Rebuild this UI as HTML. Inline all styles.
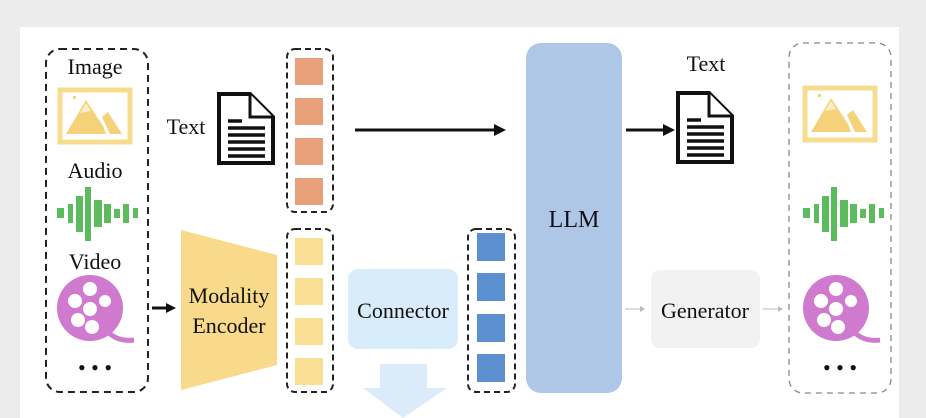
<!DOCTYPE html>
<html><head><meta charset="utf-8"><style>
html,body{margin:0;padding:0;background:#ececec;}
svg{display:block;}
text{font-family:"Liberation Serif",serif;fill:#111;}
</style></head><body>
<svg width="926" height="418" viewBox="0 0 926 418" xmlns="http://www.w3.org/2000/svg">
<defs>
<g id="waves" fill="#5cbb5c">
<rect x="57" y="208" width="7" height="10"/><rect x="68" y="204" width="5" height="19"/><rect x="76" y="196" width="7" height="36"/><rect x="85" y="187" width="6" height="54"/><rect x="94" y="200" width="8" height="27"/><rect x="104" y="204" width="7" height="19"/><rect x="114" y="209" width="6" height="9"/><rect x="123" y="204" width="6" height="19"/><rect x="133" y="208" width="5" height="10"/>
</g>
</defs>
<rect width="926" height="418" fill="#ececec"/>
<rect x="20" y="27" width="879" height="391" fill="#ffffff"/>

<!-- left dashed box -->
<rect x="46" y="49" width="102" height="343" rx="14" fill="none" stroke="#222" stroke-width="2" stroke-dasharray="7,5"/>
<text x="95" y="74" font-size="22" text-anchor="middle">Image</text>
<g>
<rect x="60" y="90" width="70" height="52" fill="#fff" stroke="#f6dc8c" stroke-width="5"/>
<polygon points="66,134 86,100 103,126 106,134" fill="#f5d27a"/>
<polygon points="80,113 86,103 91,111" fill="#fdf0c8"/>
<polygon points="102,117 108,112 122,134 110,134" fill="#f5d27a"/>
<rect x="73" y="96" width="3" height="3" fill="#f5d27a"/>
</g>
<text x="95" y="178" font-size="22" text-anchor="middle">Audio</text>
<use href="#waves"/>
<text x="95" y="269" font-size="22" text-anchor="middle">Video</text>
<g>
<path d="M108,332 Q118,342 134,340" stroke="#cf79cf" stroke-width="5" fill="none"/>
<circle cx="90" cy="308" r="33" fill="#cf79cf"/>
<g fill="#fff"><circle cx="90" cy="289" r="7"/><circle cx="75" cy="301" r="7"/><circle cx="105" cy="301" r="6"/><circle cx="90" cy="309" r="7"/><circle cx="78" cy="320" r="7"/><circle cx="92" cy="327" r="7"/></g>
</g>
<text x="95" y="375" font-size="22" text-anchor="middle">• • •</text>

<!-- text input -->
<text x="186" y="134" font-size="22" text-anchor="middle">Text</text>
<g fill="none" stroke="#111" stroke-width="4">
<path d="M219,94 H250 L273,117 V163 H219 Z" fill="#fff"/>
<path d="M250,94 V117 H273" fill="#fff" stroke-width="3"/>
<g stroke-width="3.5"><line x1="228" y1="121" x2="242" y2="121"/><line x1="228" y1="128" x2="265" y2="128"/><line x1="228" y1="135" x2="265" y2="135"/><line x1="228" y1="142" x2="265" y2="142"/><line x1="228" y1="149" x2="265" y2="149"/><line x1="228" y1="156" x2="265" y2="156"/></g>
</g>

<!-- orange tokens -->
<rect x="287" y="49" width="46" height="163" rx="8" fill="none" stroke="#222" stroke-width="2" stroke-dasharray="6,4"/>
<g fill="#e8a07a"><rect x="295" y="58" width="28" height="27"/><rect x="295" y="98" width="28" height="27"/><rect x="295" y="138" width="28" height="27"/><rect x="295" y="178" width="28" height="27"/></g>

<!-- arrow to LLM -->
<line x1="355" y1="130" x2="496" y2="130" stroke="#111" stroke-width="3"/>
<polygon points="494,124 506,130 494,136" fill="#111"/>

<!-- encoder -->
<line x1="152" y1="308" x2="168" y2="308" stroke="#111" stroke-width="3"/>
<polygon points="166,303 176,308 166,313" fill="#111"/>
<polygon points="181,230 277,255 277,365 181,390" fill="#f8da8a"/>
<text x="229" y="303" font-size="22" text-anchor="middle">Modality</text>
<text x="229" y="333" font-size="22" text-anchor="middle">Encoder</text>

<!-- yellow tokens -->
<rect x="287" y="229" width="46" height="163" rx="8" fill="none" stroke="#222" stroke-width="2" stroke-dasharray="6,4"/>
<g fill="#f9df94"><rect x="295" y="238" width="28" height="27"/><rect x="295" y="278" width="28" height="27"/><rect x="295" y="318" width="28" height="27"/><rect x="295" y="358" width="28" height="27"/></g>

<!-- connector -->
<rect x="348" y="269" width="110" height="80" rx="10" fill="#d8ecfa"/>
<text x="403" y="318" font-size="22" text-anchor="middle">Connector</text>
<polygon points="380,364 427,364 427,388 447,388 403,418 363,388 380,388" fill="#dcebfa"/>

<!-- blue tokens -->
<rect x="468" y="229" width="47" height="163" rx="8" fill="none" stroke="#222" stroke-width="2" stroke-dasharray="6,4"/>
<g fill="#5b8fd0"><rect x="477" y="233" width="28" height="28"/><rect x="477" y="273" width="28" height="28"/><rect x="477" y="314" width="28" height="28"/><rect x="477" y="354" width="28" height="28"/></g>

<!-- LLM -->
<rect x="526" y="43" width="96" height="350" rx="15" fill="#aec7e7"/>
<text x="574" y="227" font-size="24" text-anchor="middle">LLM</text>

<!-- output text -->
<line x1="626" y1="130" x2="665" y2="130" stroke="#111" stroke-width="3"/>
<polygon points="663,124 675,130 663,136" fill="#111"/>
<text x="706" y="71" font-size="22" text-anchor="middle">Text</text>
<g transform="translate(459,-1)" fill="none" stroke="#111" stroke-width="4">
<path d="M219,94 H250 L273,117 V163 H219 Z" fill="#fff"/>
<path d="M250,94 V117 H273" fill="#fff" stroke-width="3"/>
<g stroke-width="3.5"><line x1="228" y1="121" x2="242" y2="121"/><line x1="228" y1="128" x2="265" y2="128"/><line x1="228" y1="135" x2="265" y2="135"/><line x1="228" y1="142" x2="265" y2="142"/><line x1="228" y1="149" x2="265" y2="149"/><line x1="228" y1="156" x2="265" y2="156"/></g>
</g>

<!-- generator -->
<line x1="625" y1="309" x2="643" y2="309" stroke="#bbb" stroke-width="1"/>
<polygon points="640,306 645,309 640,312" fill="#bbb"/>
<rect x="651" y="270" width="109" height="78" rx="9" fill="#f2f2f2"/>
<text x="705" y="318" font-size="22" text-anchor="middle">Generator</text>
<line x1="763" y1="309" x2="781" y2="309" stroke="#bbb" stroke-width="1"/>
<polygon points="778,306 783,309 778,312" fill="#bbb"/>

<!-- right dashed box -->
<rect x="789" y="43" width="102" height="350" rx="14" fill="none" stroke="#888" stroke-width="1.3" stroke-dasharray="6,5"/>
<g transform="translate(745,-2)">
<rect x="60" y="90" width="70" height="52" fill="#fff" stroke="#f6dc8c" stroke-width="5"/>
<polygon points="66,134 86,100 103,126 106,134" fill="#f5d27a"/>
<polygon points="80,113 86,103 91,111" fill="#fdf0c8"/>
<polygon points="102,117 108,112 122,134 110,134" fill="#f5d27a"/>
<rect x="73" y="96" width="3" height="3" fill="#f5d27a"/>
</g>
<use href="#waves" transform="translate(746,0)"/>
<g transform="translate(746,0)">
<path d="M108,332 Q118,342 134,340" stroke="#cf79cf" stroke-width="5" fill="none"/>
<circle cx="90" cy="308" r="33" fill="#cf79cf"/>
<g fill="#fff"><circle cx="90" cy="289" r="7"/><circle cx="75" cy="301" r="7"/><circle cx="105" cy="301" r="6"/><circle cx="90" cy="309" r="7"/><circle cx="78" cy="320" r="7"/><circle cx="92" cy="327" r="7"/></g>
</g>
<text x="840" y="375" font-size="22" text-anchor="middle">• • •</text>
</svg>
</body></html>
